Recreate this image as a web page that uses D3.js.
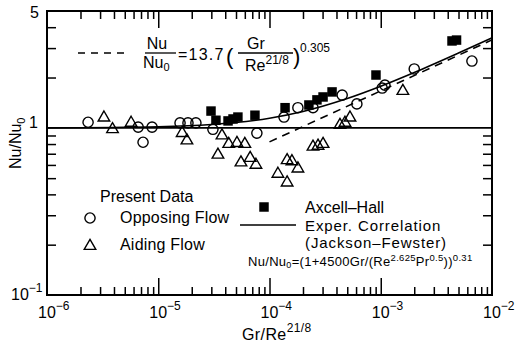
<!DOCTYPE html>
<html>
<head>
<meta charset="utf-8">
<script src="https://cdn.jsdelivr.net/npm/d3@7"></script>
<style>
  body { margin: 0; background: #fff; }
  text { font-family: "Liberation Sans", Arial, sans-serif; fill: #000; }
</style>
</head>
<body>
<svg id="chart" width="523" height="346"></svg>
<script>
// values
const opposingX = [2.34e-6, 6.6e-6, 8.8e-6, 7.3e-6, 1.57e-5, 1.85e-5, 2.18e-5, 3.1e-5, 7.7e-5, 1.35e-4, 1.8e-4, 2.46e-4, 4.5e-4, 6.1e-4, 1.03e-3, 1.09e-3, 2.0e-3, 6.6e-3];
const opposingY = [1.08, 1.01, 1.01, 0.82, 1.07, 1.07, 1.07, 0.98, 0.93, 1.16, 1.32, 1.32, 1.57, 1.39, 1.73, 1.80, 2.25, 2.51];

const aidingX = [3.25e-6, 3.88e-6, 5.7e-6, 1.64e-5, 1.81e-5, 3.44e-5, 3.74e-5, 4.3e-5, 5.1e-5, 6.0e-5, 5.54e-5, 6.7e-5, 7.55e-5, 1.19e-4, 1.44e-4, 1.59e-4, 1.8e-4, 1.44e-4, 2.46e-4, 2.73e-4, 3.03e-4, 4.3e-4, 4.77e-4, 5.29e-4, 1.58e-3];
const aidingY = [1.15, 0.98, 1.07, 0.93, 0.84, 0.69, 0.90, 0.80, 0.81, 0.80, 0.62, 0.66, 0.60, 0.53, 0.64, 0.63, 0.57, 0.47, 0.77, 0.78, 0.80, 1.04, 1.07, 1.15, 1.66];

const axcellX = [2.98e-5, 3.3e-5, 4.24e-5, 4.7e-5, 5.2e-5, 7.4e-5, 1.38e-4, 2.26e-4, 2.67e-4, 3.03e-4, 3.65e-4, 9.06e-4, 4.37e-3, 4.8e-3];
const axcellY = [1.26, 1.11, 1.10, 1.13, 1.16, 1.19, 1.32, 1.37, 1.47, 1.53, 1.64, 2.07, 3.31, 3.35];

// Jackson-Fewster correlation curve
const corrX = [1e-6, 1e-5, 3e-5, 1e-4, 2e-4, 5e-4, 1e-3, 2e-3, 5e-3, 1e-2];
const corrY = [1.0, 1.016, 1.047, 1.142, 1.253, 1.497, 1.773, 2.142, 2.80, 3.45];

// dashed fit line ends
const dashX = [1e-4, 1e-2];
const dashY = [0.824, 3.36];

const xMajor = [1e-6, 1e-5, 1e-4, 1e-3, 1e-2];
const xExp = ["-6", "-5", "-4", "-3", "-2"];
const yMinor = [0.2, 0.3, 0.4, 0.5, 0.6, 0.7, 0.8, 0.9, 2, 3, 4];

const svg = d3.select('#chart');
const mLeft = 47, mRight = 492, mTop = 11, mBottom = 295;

const x = d3.scaleLog().domain([1e-6, 1e-2]).range([mLeft, mRight]);
const y = d3.scaleLog().domain([0.1, 5]).range([mBottom, mTop]);

const xMinor = [];
xMajor.slice(0, -1).forEach(d => { for (let k = 2; k <= 9; k++) xMinor.push(d * k); });
const xInner = xMajor.slice(1, -1);

function tickStyle(g) {
  g.select('.domain').remove();
  g.selectAll('line').attr('stroke', '#000').attr('stroke-width', 1.5);
}

// inward ticks on all four sides
svg.append('g').attr('transform', `translate(0,${mBottom})`)
    .call(d3.axisBottom(x).tickValues(xMinor).tickSize(-8).tickFormat('')).call(tickStyle);
svg.append('g').attr('transform', `translate(0,${mBottom})`)
    .call(d3.axisBottom(x).tickValues(xInner).tickSize(-17).tickFormat('')).call(tickStyle);
svg.append('g').attr('transform', `translate(0,${mTop})`)
    .call(d3.axisTop(x).tickValues(xMinor).tickSize(-8).tickFormat('')).call(tickStyle);
svg.append('g').attr('transform', `translate(0,${mTop})`)
    .call(d3.axisTop(x).tickValues(xInner).tickSize(-17).tickFormat('')).call(tickStyle);
svg.append('g').attr('transform', `translate(${mLeft},0)`)
    .call(d3.axisLeft(y).tickValues(yMinor).tickSize(-9).tickFormat('')).call(tickStyle);
svg.append('g').attr('transform', `translate(${mRight},0)`)
    .call(d3.axisRight(y).tickValues(yMinor).tickSize(-9).tickFormat('')).call(tickStyle);

// frame
svg.append('rect')
    .attr('x', mLeft).attr('y', mTop)
    .attr('width', mRight - mLeft).attr('height', mBottom - mTop)
    .attr('fill', 'none').attr('stroke', '#000').attr('stroke-width', 2);

// Nu/Nu0 = 1 reference line
svg.append('line')
    .attr('x1', mLeft).attr('x2', mRight)
    .attr('y1', y(1)).attr('y2', y(1))
    .attr('stroke', '#000').attr('stroke-width', 1.6);

// x tick labels
xMajor.forEach((d, i) => {
  const t = svg.append('text').attr('x', x(d) - 9).attr('y', 318).style('font-size', '16px');
  t.append('tspan').text('10');
  t.append('tspan').attr('dy', -8).style('font-size', '12px').text('\u2212' + xExp[i].slice(1));
});

// y tick labels
svg.append('text').attr('x', 39).attr('y', y(5) + 7).attr('text-anchor', 'end').style('font-size', '16px').text('5');
svg.append('text').attr('x', 38).attr('y', y(1)).attr('text-anchor', 'end').style('font-size', '16px').text('1');
const ym = svg.append('text').attr('x', 11).attr('y', 300).style('font-size', '16px');
ym.append('tspan').text('10');
ym.append('tspan').attr('dy', -8).style('font-size', '12px').text('\u22121');

// axis titles
const xt = svg.append('text').attr('x', 242).attr('y', 340).style('font-size', '16px').style('letter-spacing', '0.4px');
xt.append('tspan').text('Gr/Re');
xt.append('tspan').attr('dy', -8).style('font-size', '12px').text('21/8');

const yt = svg.append('text').attr('transform', 'translate(21,169) rotate(-90)').style('font-size', '16px');
yt.append('tspan').text('Nu/Nu');
yt.append('tspan').attr('dy', 4).style('font-size', '11px').text('0');

// curves
const line = d3.line().x(d => x(d[0])).y(d => y(d[1]));
svg.append('path')
    .datum(corrX.map((d, i) => [d, corrY[i]]))
    .attr('d', line.curve(d3.curveMonotoneX))
    .attr('fill', 'none').attr('stroke', '#000').attr('stroke-width', 1.6);
svg.append('path')
    .datum(dashX.map((d, i) => [d, dashY[i]]))
    .attr('d', d3.line().x(d => x(d[0])).y(d => y(d[1])))
    .attr('fill', 'none').attr('stroke', '#000').attr('stroke-width', 1.6)
    .attr('stroke-dasharray', '8,6');

// markers
const circ = d3.symbol().type(d3.symbolCircle).size(82)();
const tri = d3.symbol().type(d3.symbolTriangle).size(58)();
const sq = d3.symbol().type(d3.symbolSquare).size(90)();

svg.append('g').selectAll('path')
    .data(opposingX.map((d, i) => [d, opposingY[i]]))
  .enter().append('path')
    .attr('d', circ)
    .attr('transform', d => `translate(${x(d[0])},${y(d[1])})`)
    .attr('fill', 'none').attr('stroke', '#000').attr('stroke-width', 1.4);

svg.append('g').selectAll('path')
    .data(aidingX.map((d, i) => [d, aidingY[i]]))
  .enter().append('path')
    .attr('d', tri)
    .attr('transform', d => `translate(${x(d[0])},${y(d[1])})`)
    .attr('fill', 'none').attr('stroke', '#000').attr('stroke-width', 1.4);

svg.append('g').selectAll('path')
    .data(axcellX.map((d, i) => [d, axcellY[i]]))
  .enter().append('path')
    .attr('d', sq)
    .attr('transform', d => `translate(${x(d[0])},${y(d[1])})`)
    .attr('fill', '#000');

// top formula: dashed line key
svg.append('line')
    .attr('x1', 78).attr('x2', 128).attr('y1', 53).attr('y2', 53)
    .attr('stroke', '#000').attr('stroke-width', 1.6).attr('stroke-dasharray', '7,6');
svg.append('text').attr('x', 157).attr('y', 49).attr('text-anchor', 'middle').style('font-size', '16px').text('Nu');
svg.append('line').attr('x1', 145).attr('x2', 176).attr('y1', 53).attr('y2', 53).attr('stroke', '#000').attr('stroke-width', 1.3);
const nu0 = svg.append('text').attr('x', 143).attr('y', 68).style('font-size', '16px');
nu0.append('tspan').text('Nu');
nu0.append('tspan').attr('dy', 3).style('font-size', '11px').text('0');
svg.append('text').attr('x', 178).attr('y', 60).style('font-size', '16px').style('letter-spacing', '1.2px').text('=13.7');
svg.append('text').attr('x', 226).attr('y', 64).style('font-size', '22px').text('(');
svg.append('text').attr('x', 256).attr('y', 49).attr('text-anchor', 'middle').style('font-size', '16px').text('Gr');
svg.append('line').attr('x1', 238).attr('x2', 293).attr('y1', 53).attr('y2', 53).attr('stroke', '#000').attr('stroke-width', 1.3);
const re = svg.append('text').attr('x', 245).attr('y', 71).style('font-size', '16px');
re.append('tspan').text('Re');
re.append('tspan').attr('dy', -7).style('font-size', '12px').text('21/8');
svg.append('text').attr('x', 293).attr('y', 64).style('font-size', '22px').text(')');
svg.append('text').attr('x', 300).attr('y', 52).style('font-size', '12px').text('0.305');

// legend: present data
svg.append('text').attr('x', 100).attr('y', 202).style('font-size', '16px').text('Present Data');
svg.append('path').attr('d', circ).attr('transform', 'translate(90,218)')
    .attr('fill', 'none').attr('stroke', '#000').attr('stroke-width', 1.4);
svg.append('text').attr('x', 120).attr('y', 223).style('font-size', '16px').style('letter-spacing', '0.2px').text('Opposing Flow');
svg.append('path').attr('d', tri).attr('transform', 'translate(90,246)')
    .attr('fill', 'none').attr('stroke', '#000').attr('stroke-width', 1.4);
svg.append('text').attr('x', 120).attr('y', 250).style('font-size', '16px').style('letter-spacing', '0.2px').text('Aiding Flow');

// legend: Axcell-Hall and correlation
svg.append('path').attr('d', sq).attr('transform', 'translate(264,207)').attr('fill', '#000');
svg.append('text').attr('x', 305).attr('y', 213).style('font-size', '16px').text('Axcell\u2013Hall');
svg.append('line').attr('x1', 240).attr('x2', 296).attr('y1', 225).attr('y2', 225)
    .attr('stroke', '#000').attr('stroke-width', 1.6);
svg.append('text').attr('x', 305).attr('y', 231).style('font-size', '15px').style('letter-spacing', '0.9px').text('Exper. Correlation');
svg.append('text').attr('x', 305).attr('y', 248).style('font-size', '15px').style('letter-spacing', '0.9px').text('(Jackson\u2013Fewster)');

const fm = svg.append('text').attr('x', 248).attr('y', 266).style('font-size', '13px').style('letter-spacing', '0.3px');
fm.append('tspan').text('Nu/Nu');
fm.append('tspan').attr('dy', 2).style('font-size', '9px').text('0');
fm.append('tspan').attr('dy', -2).text('=(1+4500Gr/(Re');
fm.append('tspan').attr('dy', -5).style('font-size', '9.5px').text('2.625');
fm.append('tspan').attr('dy', 5).text('Pr');
fm.append('tspan').attr('dy', -5).style('font-size', '9.5px').text('0.5');
fm.append('tspan').attr('dy', 5).text('))');
fm.append('tspan').attr('dy', -5).style('font-size', '9.5px').text('0.31');
</script>
</body>
</html>
